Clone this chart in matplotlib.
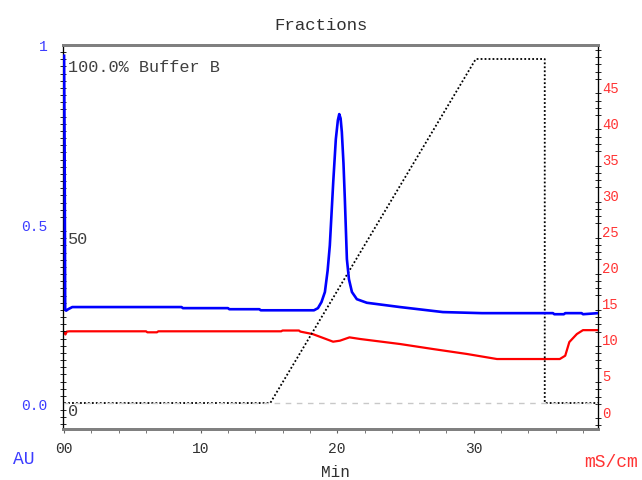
"""
Chromatogram plot: UV, conductivity and %B gradient
"""
import matplotlib.pyplot as plt
from matplotlib.ticker import MultipleLocator
import matplotlib.transforms as mtransforms

# ==========================================================
# Data
# ==========================================================
time_uv = [0.0, 0.04, 0.08, 0.15, 0.3, 0.6, 4.0, 8.6, 8.7, 12.0, 12.1, 14.3,
           14.4, 18.3, 18.59, 18.85, 19.1, 19.3, 19.46, 19.71, 19.9, 20.05,
           20.15, 20.25, 20.34, 20.46, 20.56, 20.71, 20.86, 21.08, 21.44,
           22.17, 24.6, 27.74, 30.6, 35.8, 35.9, 36.6, 36.7, 37.9, 38.0, 39.1]
uv_au = [0.97, 0.7, 0.26, 0.258, 0.262, 0.268, 0.268, 0.268, 0.265, 0.265,
         0.262, 0.262, 0.259, 0.259, 0.265, 0.282, 0.31, 0.37, 0.44, 0.617,
         0.737, 0.79, 0.807, 0.795, 0.757, 0.67, 0.57, 0.402, 0.346, 0.31,
         0.29, 0.28, 0.268, 0.254, 0.251, 0.251, 0.248, 0.248, 0.251, 0.251,
         0.248, 0.251]

time_cond = [0.0, 0.1, 0.2, 0.4, 6.0, 6.1, 6.8, 6.9, 15.9, 16.0, 17.2, 17.3,
             18.2, 19.0, 19.7, 20.2, 20.9, 21.7, 24.6, 27.0, 29.5, 31.7, 36.3,
             36.7, 37.0, 37.55, 38.0, 39.1]
cond_ms = [10.9, 10.6, 11.0, 11.04, 11.04, 10.9, 10.9, 11.04, 11.04, 11.15,
           11.15, 11.0, 10.66, 10.1, 9.6, 9.74, 10.2, 9.97, 9.28, 8.59, 7.9,
           7.2, 7.2, 7.66, 9.55, 10.66, 11.2, 11.2]

time_b = [0.0, 15.1, 30.15, 35.2, 35.2, 39.1]
pct_b = [0, 0, 100, 100, 0, 0]

x_ticks = [0, 10, 20, 30]
x_labels = ["00", "10", "20", "30"]
au_ticks = [0.0, 0.5, 1.0]
au_labels = ["0.0", "0.5", "1"]
cond_ticks = [0, 5, 10, 15, 20, 25, 30, 35, 40, 45]
b_marks = [(100, "100.0% Buffer B"), (50, "50"), (0, "0")]

MONO = "Liberation Mono"
BLUE = "#3c3cff"
RED = "#ff3333"

# ==========================================================
# Figure
# ==========================================================
fig = plt.figure(figsize=(6.42, 4.81), dpi=100)
ax = fig.add_axes([63 / 642, 51 / 481, 535 / 642, 384 / 481])
ax_cond = ax.twinx()
ax_b = ax.twinx()

ax.set_xlim(-0.08, 39.1)
ax.set_ylim(-0.0726, 1.0)
ax_cond.set_ylim(-2.49, 50.69)
ax_b.set_ylim(-7.56, 104.07)

# zero line and curves
ax.axhline(0, color="#c8c8c8", linestyle=(0, (4, 4)), linewidth=1, zorder=1)
ax_b.plot(time_b, pct_b, color="black", linestyle=(0, (1, 1.2)), linewidth=1.3)
ax_cond.plot(time_cond, cond_ms, color="#ff0000", linewidth=1.6)
ax.plot(time_uv, uv_au, color="#0000ff", linewidth=1.9, zorder=5)
ax.set_zorder(ax_b.get_zorder() + 1)
ax.patch.set_visible(False)

# ==========================================================
# Axes styling
# ==========================================================
ax.set_xticks(x_ticks)
ax.set_xticklabels(x_labels, fontfamily=MONO, fontsize=10.5, color="#303030")
ax.xaxis.set_minor_locator(MultipleLocator(2))
ax.tick_params(axis="x", which="both", direction="out", length=3, pad=6,
               color="#606060")

ax.set_yticks(au_ticks)
ax.set_yticklabels(au_labels, fontfamily=MONO, fontsize=10.5, color=BLUE)
ax.yaxis.set_minor_locator(MultipleLocator(0.02))
ax.tick_params(axis="y", which="major", direction="inout", length=0, pad=11)
ax.tick_params(axis="y", which="minor", direction="inout", length=5,
               color="black")

ax_cond.set_yticks(cond_ticks)
ax_cond.set_yticklabels([str(v) for v in cond_ticks], fontfamily=MONO,
                        fontsize=10, color=RED)
ax_cond.yaxis.set_minor_locator(MultipleLocator(1))
ax_cond.tick_params(axis="y", which="major", direction="inout", length=0, pad=3)
ax_cond.tick_params(axis="y", which="minor", direction="inout", length=4,
                    color="black")

ax_b.set_yticks([])
for a in (ax, ax_cond, ax_b):
    a.spines["top"].set_color("#808080")
    a.spines["top"].set_linewidth(2)
    a.spines["bottom"].set_color("#808080")
    a.spines["bottom"].set_linewidth(2)
    a.spines["left"].set_color("black")
    a.spines["right"].set_color("black")

# %B labels inside the plot
trans = mtransforms.blended_transform_factory(ax_b.transAxes, ax_b.transData)
for val, txt in b_marks:
    ax_b.text(0.009, val, txt, transform=trans, ha="left", va="top",
              fontfamily=MONO, fontsize=12.2, color="#404040")

# ==========================================================
# Titles and units
# ==========================================================
fig.text(321 / 642, 1 - 25 / 481, "Fractions", ha="center", va="center",
         fontfamily=MONO, fontsize=12.5, color="#303030")
fig.text(335 / 642, 1 - 473 / 481, "Min", ha="center", va="center",
         fontfamily=MONO, fontsize=11.5, color="#303030")
fig.text(24 / 642, 1 - 460 / 481, "AU", ha="center", va="center",
         fontfamily=MONO, fontsize=13, color=BLUE)
fig.text(611 / 642, 1 - 463 / 481, "mS/cm", ha="center", va="center",
         fontfamily=MONO, fontsize=13, color=RED)

fig.savefig("out.png", dpi=100)
